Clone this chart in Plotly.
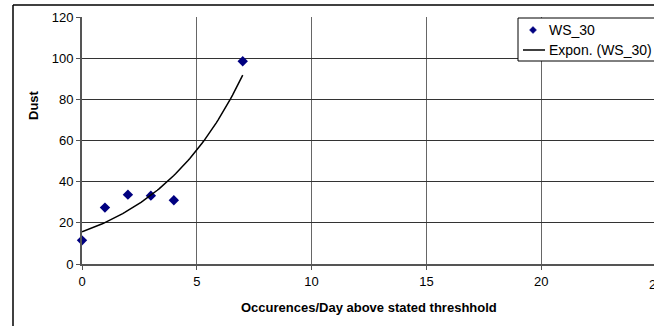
import numpy as np
import plotly.graph_objects as go

# Occurrences per day above the threshold vs. dust reading
occurrences = [0, 1, 2, 3, 4, 7]
dust = [11.5, 27.4, 33.7, 33.2, 31.0, 98.5]

x_ticks = [0, 5, 10, 15, 20]
y_ticks = [0, 20, 40, 60, 80, 100, 120]
series_name = "WS_30"
trend_name = "Expon. (WS_30)"

# Exponential trendline: least-squares fit of ln(y) against x
b, ln_a = np.polyfit(occurrences, np.log(dust), 1)
x_fit = np.linspace(min(occurrences), max(occurrences), 80)
y_fit = np.exp(ln_a) * np.exp(b * x_fit)

W, H = 654, 326
L, T, B = 82, 17, 62
plot_w = W - L
plot_h = H - T - B
# axis continues slightly past the right edge of the canvas
x_max = 25 * plot_w / 574.0

def px_x(p):
    return (p - L) / plot_w

def px_y(p):
    return (H - B - p) / plot_h

NAVY = "#000080"
FONT = "Arial, Liberation Sans"

fig = go.Figure()
fig.add_trace(go.Scatter(
    x=occurrences, y=dust, mode="markers", name=series_name,
    marker=dict(symbol="diamond", size=8, color=NAVY),
    cliponaxis=False, showlegend=False,
))
fig.add_trace(go.Scatter(
    x=x_fit, y=y_fit, mode="lines", name=trend_name,
    line=dict(color="black", width=1.5), showlegend=False,
))

axis_font = dict(family=FONT, size=13, color="black")
fig.update_xaxes(
    range=[0, x_max], tickvals=x_ticks, ticks="outside", ticklen=4,
    tickcolor="#555", showline=True, linecolor="#555", linewidth=2,
    showgrid=True, gridcolor="#666", gridwidth=1, zeroline=False,
    tickfont=axis_font,
)
fig.update_yaxes(
    range=[0, 120], tickvals=y_ticks, ticks="outside", ticklen=4,
    tickcolor="#555", showline=True, linecolor="#555", linewidth=2,
    showgrid=True, gridcolor="#333", gridwidth=1, zeroline=False,
    tickfont=axis_font,
)

legend_font = dict(family=FONT, size=14, color="black")
annotations = [
    dict(text="<b>Occurences/Day above stated threshhold</b>",
         xref="paper", yref="paper", x=px_x(369), y=px_y(307), showarrow=False,
         font=dict(family=FONT, size=13, color="black"),
         xanchor="center", yanchor="middle"),
    dict(text="<b>Dust</b>", textangle=-90,
         xref="paper", yref="paper", x=px_x(33), y=px_y(105), showarrow=False,
         font=dict(family=FONT, size=13, color="black"),
         xanchor="center", yanchor="middle"),
    # last x tick label, running off the canvas edge
    dict(text="25", xref="paper", yref="paper", x=25 / x_max, y=px_y(284),
         showarrow=False, font=axis_font, xanchor="center", yanchor="middle"),
    # legend labels
    dict(text=series_name, xref="paper", yref="paper", x=px_x(547), y=px_y(30),
         showarrow=False, font=legend_font, xanchor="left", yanchor="middle"),
    dict(text=trend_name, xref="paper", yref="paper", x=px_x(547), y=px_y(50),
         showarrow=False, font=legend_font, xanchor="left", yanchor="middle"),
]

shapes = [
    # outer chart border (left and top edges)
    dict(type="line", xref="paper", yref="paper",
         x0=px_x(13), x1=px_x(13), y0=px_y(330), y1=px_y(5),
         line=dict(color="black", width=1.5)),
    dict(type="line", xref="paper", yref="paper",
         x0=px_x(13), x1=px_x(660), y0=px_y(5), y1=px_y(5),
         line=dict(color="black", width=1.5)),
    # legend box
    dict(type="rect", xref="paper", yref="paper",
         x0=px_x(518), x1=px_x(700), y0=px_y(61), y1=px_y(18),
         fillcolor="white", line=dict(color="black", width=1), layer="above"),
    # legend glyphs: diamond and line
    dict(type="path", xref="paper", yref="paper",
         path="M {} {} L {} {} L {} {} L {} {} Z".format(
             px_x(533), px_y(26.5), px_x(536.5), px_y(30),
             px_x(533), px_y(33.5), px_x(529.5), px_y(30)),
         fillcolor=NAVY, line=dict(color=NAVY, width=0.5), layer="above"),
    dict(type="line", xref="paper", yref="paper",
         x0=px_x(523), x1=px_x(545), y0=px_y(50), y1=px_y(50),
         line=dict(color="black", width=1.5), layer="above"),
]

fig.update_layout(
    width=W, height=H,
    margin=dict(l=L, r=0, t=T, b=B, pad=0),
    paper_bgcolor="white", plot_bgcolor="white",
    showlegend=False,
    annotations=annotations,
    shapes=shapes,
)

fig.write_html("out.html")
